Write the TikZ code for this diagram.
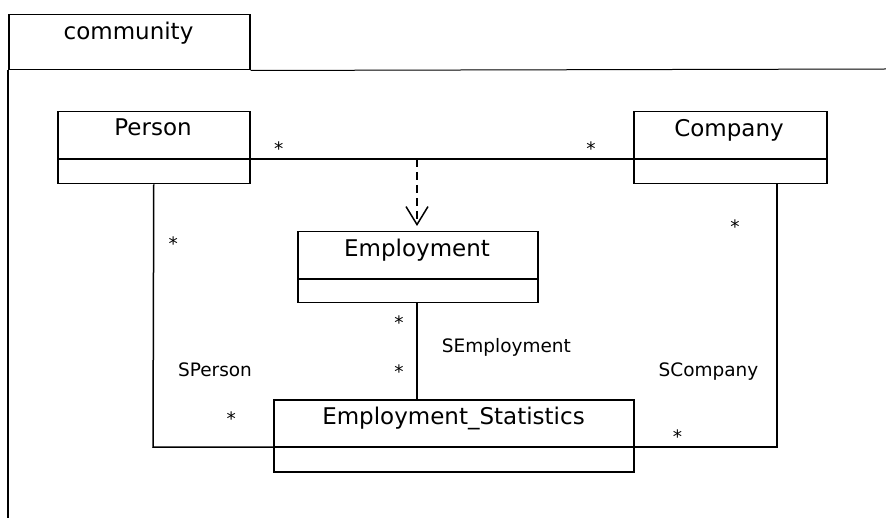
\documentclass[tikz,border=0pt]{standalone}
\usepackage{fontspec}
\setmainfont{DejaVu Sans}
\usetikzlibrary{arrows.meta}

\begin{document}
\begin{tikzpicture}[x=1pt,y=-1pt,
  classbox/.style={draw,line width=1.5pt,inner sep=0pt,anchor=north west},
  classname/.style={anchor=base,inner sep=0pt,font=\fontsize{23}{27}\selectfont},
  rolename/.style={anchor=base,inner sep=0pt,font=\fontsize{18.5}{22}\selectfont},
  mult/.style={anchor=base,inner sep=0pt,font=\fontsize{18.5}{22}\selectfont},
  assoc/.style={line width=1.5pt},
  depend/.style={line width=1.5pt,dash pattern=on 8pt off 5pt,
    -{Straight Barb[length=18pt,width=22pt,line width=1.5pt]}}]
\useasboundingbox (0,0) rectangle (886,518);

% package frame with its name tab
\node[classbox,minimum width=241pt,minimum height=55pt] (tab) at (8,14) {};
\node[classname] (tabname) at (128.5,40) {community};
\draw[line width=1.4pt] (tab.south west) -- (8,518);
\draw[line width=1pt] (tab.south east) -- (886,69);

% classes
\node[classbox,minimum width=192pt,minimum height=72pt] (person) at (57,111) {};
\node[classname] (personname) at (153,136) {Person};
\draw[line width=1.5pt] (person.west |- 0,159) -- (person.east |- 0,159);

\node[classbox,minimum width=193pt,minimum height=72pt] (company) at (633,111) {};
\node[classname] (companyname) at (729,136.5) {Company};
\draw[line width=1.5pt] (company.west |- 0,159) -- (company.east |- 0,159);

\node[classbox,minimum width=240pt,minimum height=71pt] (employment) at (297,231) {};
\node[classname] (employmentname) at (417,256.7) {Employment};
\draw[line width=1.5pt] (employment.west |- 0,279) -- (employment.east |- 0,279);

\node[classbox,minimum width=360pt,minimum height=72pt] (stats) at (273,399) {};
\node[classname] (statsname) at (453.5,424) {Employment\_Statistics};
\draw[line width=1.5pt] (stats.west |- 0,447) -- (stats.east |- 0,447);

% association Person -- Company and its association class
\coordinate (pc) at (417,159);
\draw[assoc] (person.east |- pc) -- (company.west |- pc);
\draw[depend,shorten >=5pt] (pc) -- (pc |- employment.north);
\node[mult] (m1) at (278.8,155.3) {*};
\node[mult] (m2) at (591,155.3) {*};

% Employment -- Employment_Statistics
\draw[assoc] (pc |- employment.south) -- (pc |- stats.north);
\node[mult] (m3) at (399,329.5) {*};
\node[mult] (m4) at (399,379) {*};
\node[rolename] (semp) at (506.4,352.3) {SEmployment};

% Person -- Employment_Statistics
\coordinate (pl) at (153,447);
\draw[assoc] (person.south) -- (pl) -- (stats.west |- pl);
\node[mult] (m5) at (173.2,251) {*};
\node[mult] (m6) at (231.3,425) {*};
\node[rolename] (sper) at (215,376.7) {SPerson};

% Company -- Employment_Statistics
\coordinate (cl) at (777,447);
\draw[assoc] (company.south -| cl) -- (cl) -- (stats.east |- cl);
\node[mult] (m7) at (735,233.7) {*};
\node[mult] (m8) at (677.5,443.7) {*};
\node[rolename] (scom) at (708.5,376.7) {SCompany};
\end{tikzpicture}
\end{document}
